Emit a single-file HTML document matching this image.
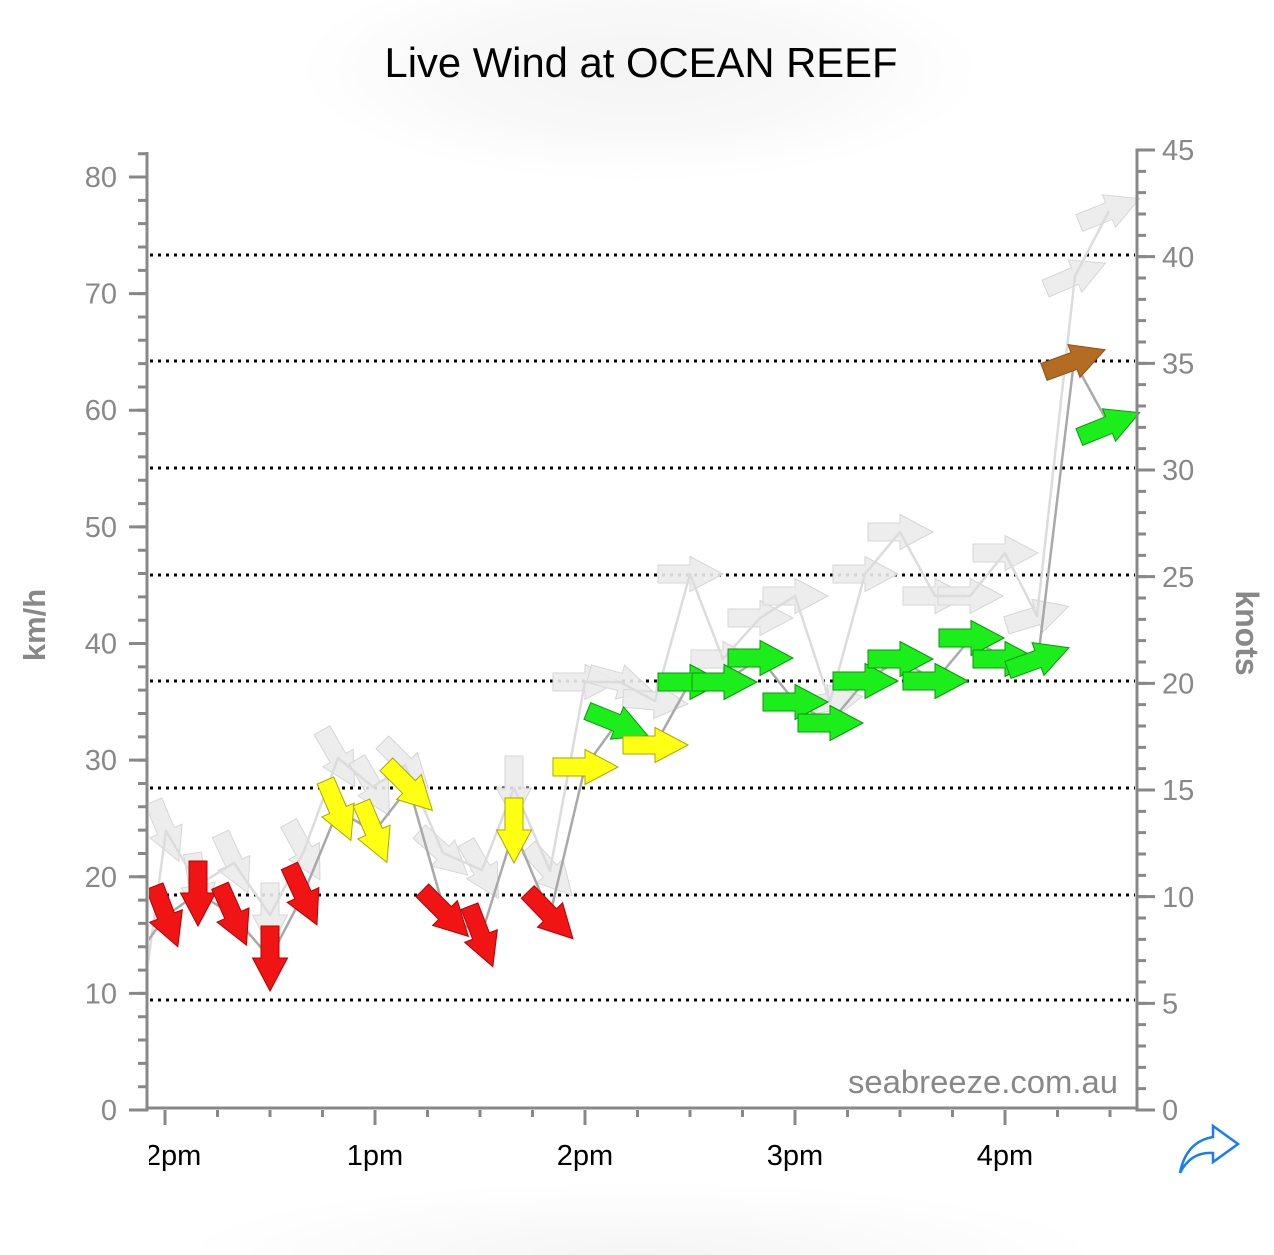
<!DOCTYPE html>
<html><head><meta charset="utf-8"><style>
html,body{margin:0;padding:0;background:#fff;}
svg{display:block;}
text{font-family:"Liberation Sans",Arial,sans-serif;}
</style></head><body>
<svg width="1274" height="1255" viewBox="0 0 1274 1255" xmlns="http://www.w3.org/2000/svg">
<defs>
<radialGradient id="bg1" cx="640" cy="70" r="340" gradientUnits="userSpaceOnUse" gradientTransform="translate(640 70) scale(1 0.33) translate(-640 -70)">
<stop offset="0" stop-color="#f4f4f4"/><stop offset="0.6" stop-color="#f9f9f9"/><stop offset="1" stop-color="#ffffff"/></radialGradient>
<radialGradient id="bg2" cx="640" cy="1255" r="460" gradientUnits="userSpaceOnUse" gradientTransform="translate(640 1255) scale(1 0.16) translate(-640 -1255)">
<stop offset="0" stop-color="#f5f5f5"/><stop offset="1" stop-color="#ffffff"/></radialGradient>
<polygon id="ar" points="-32,-9 0,-9 0,-17.5 33,0 0,17.5 0,9 -32,9"/>
<clipPath id="pc"><rect x="149" y="0" width="1125" height="1107"/></clipPath>
<clipPath id="lc"><rect x="149" y="1120" width="1125" height="80"/></clipPath>
</defs>
<rect width="1274" height="1255" fill="#fff"/>
<rect x="200" y="0" width="880" height="230" fill="url(#bg1)"/>
<rect x="100" y="1150" width="1080" height="105" fill="url(#bg2)"/>

<text x="641" y="77" font-size="42" text-anchor="middle" fill="#000" textLength="513" lengthAdjust="spacingAndGlyphs">Live Wind at OCEAN REEF</text>

<!-- dotted grid -->
<g stroke="#000" stroke-width="3" stroke-dasharray="3 5">
<line x1="150" y1="255" x2="1135" y2="255"/>
<line x1="150" y1="361" x2="1135" y2="361"/>
<line x1="150" y1="468" x2="1135" y2="468"/>
<line x1="150" y1="575" x2="1135" y2="575"/>
<line x1="150" y1="681" x2="1135" y2="681"/>
<line x1="150" y1="788" x2="1135" y2="788"/>
<line x1="150" y1="895" x2="1135" y2="895"/>
<line x1="150" y1="1000" x2="1135" y2="1000"/>
</g>

<g clip-path="url(#pc)">
<!-- gust arrows -->
<g fill="#ebebeb" fill-opacity="0.9" stroke="#d6d6d6" stroke-width="1">
<use href="#ar" transform="translate(166 831) rotate(67)"/>
<use href="#ar" transform="translate(198 885) rotate(80)"/>
<use href="#ar" transform="translate(234 863) rotate(65)"/>
<use href="#ar" transform="translate(270 915) rotate(90)"/>
<use href="#ar" transform="translate(304 851) rotate(61)"/>
<use href="#ar" transform="translate(338 758) rotate(60)"/>
<use href="#ar" transform="translate(373 787) rotate(60)"/>
<use href="#ar" transform="translate(405 765) rotate(45)"/>
<use href="#ar" transform="translate(443 853) rotate(42)"/>
<use href="#ar" transform="translate(482 870) rotate(60)"/>
<use href="#ar" transform="translate(514 788) rotate(90)"/>
<use href="#ar" transform="translate(550 871) rotate(48)"/>
<use href="#ar" transform="translate(585 682) rotate(0)"/>
<use href="#ar" transform="translate(620 682) rotate(15)"/>
<use href="#ar" transform="translate(655 701) rotate(5)"/>
<use href="#ar" transform="translate(690 574) rotate(0)"/>
<use href="#ar" transform="translate(723 659) rotate(0)"/>
<use href="#ar" transform="translate(760 618) rotate(0)"/>
<use href="#ar" transform="translate(795 596) rotate(0)"/>
<use href="#ar" transform="translate(830 702) rotate(-10)"/>
<use href="#ar" transform="translate(865 574) rotate(0)"/>
<use href="#ar" transform="translate(900 532) rotate(0)"/>
<use href="#ar" transform="translate(935 596) rotate(0)"/>
<use href="#ar" transform="translate(970 596) rotate(0)"/>
<use href="#ar" transform="translate(1005 553) rotate(0)"/>
<use href="#ar" transform="translate(1037 616) rotate(-17)"/>
<use href="#ar" transform="translate(1075 276) rotate(-23)"/>
<use href="#ar" transform="translate(1109 211) rotate(-22)"/>
</g>
<!-- gust line -->
<polyline fill="none" stroke="#dcdcdc" stroke-width="2.5" stroke-linejoin="round" points="130,1095 166,831 198,885 234,863 270,915 304,851 338,758 373,787 405,765 443,853 482,870 514,788 550,871 585,682 620,682 655,701 690,574 723,659 760,618 795,596 830,702 865,574 900,532 935,596 970,596 1005,553 1037,616 1075,276 1109,211"/>
<!-- avg line -->
<polyline fill="none" stroke="#a9a9a9" stroke-width="2.5" stroke-linejoin="round" points="130,965 166,916 198,893 233,915 270,958 303,895 338,810 374,832 409,787 445,913 481,936 514,830 550,915 585,767 617,723 655,745 690,682 724,682 760,658 795,702 830,723 865,681 900,659 935,681 971,638 1005,659 1038,659 1074,361 1109,425"/>
<!-- avg arrows -->
<g stroke-width="1">
<use href="#ar" fill="#f01414" stroke="#b80000" transform="translate(166 916) rotate(69)"/>
<use href="#ar" fill="#f01414" stroke="#b80000" transform="translate(198 893) rotate(90)"/>
<use href="#ar" fill="#f01414" stroke="#b80000" transform="translate(233 915) rotate(66)"/>
<use href="#ar" fill="#f01414" stroke="#b80000" transform="translate(270 958) rotate(90)"/>
<use href="#ar" fill="#f01414" stroke="#b80000" transform="translate(303 895) rotate(65)"/>
<use href="#ar" fill="#ffff14" stroke="#a8a800" transform="translate(338 810) rotate(67)"/>
<use href="#ar" fill="#ffff14" stroke="#a8a800" transform="translate(374 832) rotate(67)"/>
<use href="#ar" fill="#ffff14" stroke="#a8a800" transform="translate(409 787) rotate(45)"/>
<use href="#ar" fill="#f01414" stroke="#b80000" transform="translate(445 913) rotate(45)"/>
<use href="#ar" fill="#f01414" stroke="#b80000" transform="translate(481 936) rotate(69)"/>
<use href="#ar" fill="#ffff14" stroke="#a8a800" transform="translate(514 830) rotate(90)"/>
<use href="#ar" fill="#f01414" stroke="#b80000" transform="translate(550 915) rotate(46)"/>
<use href="#ar" fill="#ffff14" stroke="#a8a800" transform="translate(585 767) rotate(0)"/>
<use href="#ar" fill="#1cee1c" stroke="#0a960a" transform="translate(617 723) rotate(22)"/>
<use href="#ar" fill="#ffff14" stroke="#a8a800" transform="translate(655 745) rotate(0)"/>
<use href="#ar" fill="#1cee1c" stroke="#0a960a" transform="translate(690 682) rotate(0)"/>
<use href="#ar" fill="#1cee1c" stroke="#0a960a" transform="translate(724 682) rotate(0)"/>
<use href="#ar" fill="#1cee1c" stroke="#0a960a" transform="translate(760 658) rotate(0)"/>
<use href="#ar" fill="#1cee1c" stroke="#0a960a" transform="translate(795 702) rotate(0)"/>
<use href="#ar" fill="#1cee1c" stroke="#0a960a" transform="translate(830 723) rotate(0)"/>
<use href="#ar" fill="#1cee1c" stroke="#0a960a" transform="translate(865 681) rotate(0)"/>
<use href="#ar" fill="#1cee1c" stroke="#0a960a" transform="translate(900 659) rotate(0)"/>
<use href="#ar" fill="#1cee1c" stroke="#0a960a" transform="translate(935 681) rotate(0)"/>
<use href="#ar" fill="#1cee1c" stroke="#0a960a" transform="translate(971 638) rotate(0)"/>
<use href="#ar" fill="#1cee1c" stroke="#0a960a" transform="translate(1005 659) rotate(0)"/>
<use href="#ar" fill="#1cee1c" stroke="#0a960a" transform="translate(1038 659) rotate(-20)"/>
<use href="#ar" fill="#b46b22" stroke="#8a5214" transform="translate(1074 361) rotate(-20)"/>
<use href="#ar" fill="#1cee1c" stroke="#0a960a" transform="translate(1109 425) rotate(-22)"/>
</g>
</g>

<!-- left axis -->
<g stroke="#888">
<line x1="147" y1="152" x2="147" y2="1111.5" stroke-width="3"/>
<line x1="142.5" y1="152.2" x2="142.5" y2="1111.5" stroke-width="9" stroke-dasharray="3 20.325"/>
<path stroke-width="3" d="M129 1110H147M129 993.4H147M129 876.75H147M129 760.1H147M129 643.5H147M129 526.9H147M129 410.25H147M129 293.6H147M129 177H147"/>
</g>
<g font-size="29" fill="#888" text-anchor="end">
<text x="117" y="1120">0</text>
<text x="117" y="1003.5">10</text>
<text x="117" y="887">20</text>
<text x="117" y="770">30</text>
<text x="117" y="653.5">40</text>
<text x="117" y="537">50</text>
<text x="117" y="420">60</text>
<text x="117" y="303.5">70</text>
<text x="117" y="187">80</text>
</g>
<text transform="translate(45 625) rotate(-90)" font-size="31" font-weight="bold" fill="#888" text-anchor="middle">km/h</text>

<!-- right axis -->
<g stroke="#888">
<line x1="1137" y1="148.5" x2="1137" y2="1111.5" stroke-width="3"/>
<line x1="1141.5" y1="148.5" x2="1141.5" y2="1111.5" stroke-width="9" stroke-dasharray="3 18.3333"/>
<path stroke-width="3" d="M1137 1110H1155M1137 1003.33H1155M1137 896.67H1155M1137 790H1155M1137 683.33H1155M1137 576.67H1155M1137 470H1155M1137 363.33H1155M1137 256.67H1155M1137 150H1155"/>
</g>
<g font-size="29" fill="#888">
<text x="1162" y="1120">0</text>
<text x="1162" y="1013.5">5</text>
<text x="1162" y="907">10</text>
<text x="1162" y="800">15</text>
<text x="1162" y="693.5">20</text>
<text x="1162" y="587">25</text>
<text x="1162" y="480">30</text>
<text x="1162" y="373.5">35</text>
<text x="1162" y="267">40</text>
<text x="1162" y="160">45</text>
</g>
<text transform="translate(1236 633) rotate(90)" font-size="32" font-weight="bold" fill="#888" text-anchor="middle">knots</text>

<!-- bottom axis -->
<g stroke="#888">
<line x1="147" y1="1108" x2="1137" y2="1108" stroke-width="3"/>
<line x1="163.5" y1="1113.5" x2="1112" y2="1113.5" stroke-width="7" stroke-dasharray="3 49.5"/>
<path stroke-width="3" d="M165 1110V1125M375 1110V1125M585 1110V1125M795 1110V1125M1005 1110V1125"/>
</g>
<g font-size="29" fill="#000" text-anchor="middle" clip-path="url(#lc)">
<text x="165" y="1165">12pm</text>
<text x="375" y="1165">1pm</text>
<text x="585" y="1165">2pm</text>
<text x="795" y="1165">3pm</text>
<text x="1005" y="1165">4pm</text>
</g>

<text x="848" y="1093" font-size="32" fill="#888" textLength="270" lengthAdjust="spacingAndGlyphs">seabreeze.com.au</text>

<path d="M1180 1173 C1184 1152 1195 1140 1213 1137 L1213 1126 L1238 1144 L1213 1162 L1213 1153 C1198 1152 1187 1159 1180 1173 Z" fill="none" stroke="#1a7ef0" stroke-width="2.5" stroke-linejoin="miter"/>
</svg>
</body></html>
